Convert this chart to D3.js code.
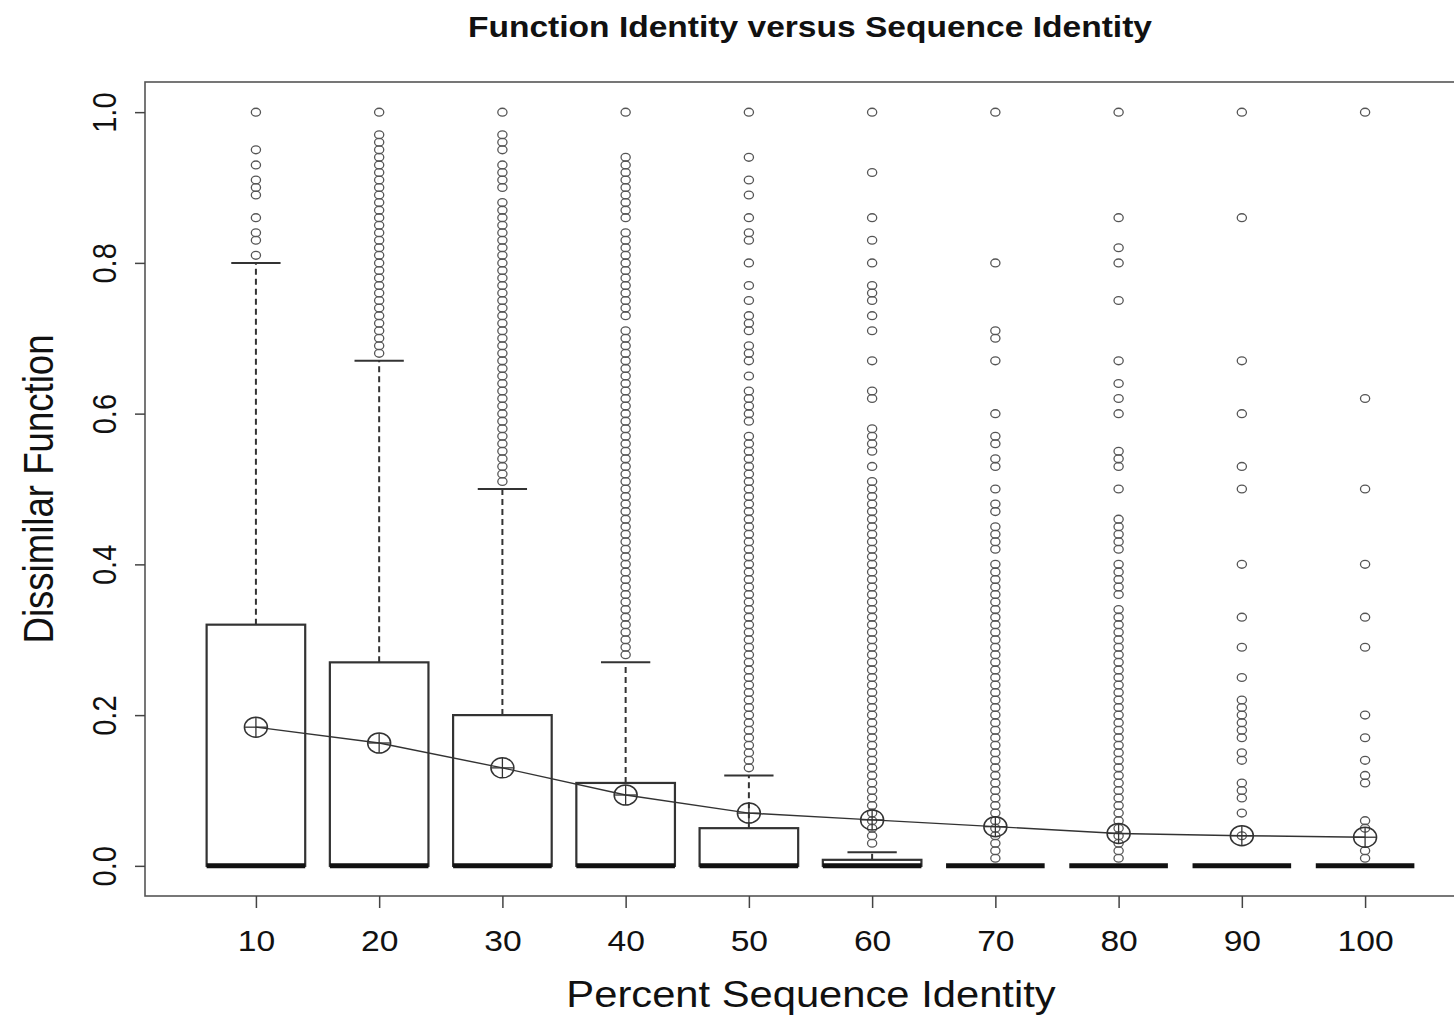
<!DOCTYPE html>
<html>
<head>
<meta charset="utf-8">
<title>Function Identity versus Sequence Identity</title>
<script src="https://cdnjs.cloudflare.com/ajax/libs/d3/7.8.5/d3.min.js"></script>
<style>
  body { margin: 0; background: #fff; }
  #main_chart text { font-family: "Liberation Sans", Arial, sans-serif; fill: #111; }
</style>
</head>
<body>
<div id="main_chart"></div>
<script>
// percent sequence identity bins
var categories = [10, 20, 30, 40, 50, 60, 70, 80, 90, 100];

// box statistics per bin (dissimilar function fraction)
var boxLow = [0, 0, 0, 0, 0, 0, 0, 0, 0, 0];
var boxMedian = [0, 0, 0, 0, 0, 0, 0, 0, 0, 0];
var boxHigh = [0.32, 0.27, 0.20, 0.11, 0.05, 0.008, 0, 0, 0, 0];
var whiskerHigh = [0.80, 0.67, 0.50, 0.27, 0.12, 0.018, 0, 0, 0, 0];
var means = [0.184, 0.163, 0.130, 0.094, 0.070, 0.061, 0.052, 0.043, 0.040, 0.038];

var outliers10 = [1.0, 0.95, 0.93, 0.91, 0.90, 0.89, 0.86, 0.84, 0.83, 0.81];
var outliers20 = [1.0, 0.97, 0.96, 0.95, 0.94, 0.93, 0.92, 0.91, 0.90, 0.89, 0.88, 0.87, 0.86, 0.85, 0.84,
  0.83, 0.82, 0.81, 0.80, 0.79, 0.78, 0.77, 0.76, 0.75, 0.74, 0.73, 0.72, 0.71, 0.70, 0.69, 0.68];
var outliers30 = [1.0, 0.97, 0.96, 0.95, 0.93, 0.92, 0.91, 0.90, 0.88, 0.87, 0.86, 0.85, 0.84, 0.83, 0.82,
  0.81, 0.80, 0.79, 0.78, 0.77, 0.76, 0.75, 0.74, 0.73, 0.72, 0.71, 0.70, 0.69, 0.68, 0.67, 0.66, 0.65,
  0.64, 0.63, 0.62, 0.61, 0.60, 0.59, 0.58, 0.57, 0.56, 0.55, 0.54, 0.53, 0.52, 0.51];
var outliers40 = [1.0, 0.94, 0.93, 0.92, 0.91, 0.90, 0.89, 0.88, 0.87, 0.86, 0.84, 0.83, 0.82, 0.81, 0.80,
  0.79, 0.78, 0.77, 0.76, 0.75, 0.74, 0.73, 0.71, 0.70, 0.69, 0.68, 0.67, 0.66, 0.65, 0.64, 0.63, 0.62,
  0.61, 0.60, 0.59, 0.58, 0.57, 0.56, 0.55, 0.54, 0.53, 0.52, 0.51, 0.50, 0.49, 0.48, 0.47, 0.46, 0.45,
  0.44, 0.43, 0.42, 0.41, 0.40, 0.39, 0.38, 0.37, 0.36, 0.35, 0.34, 0.33, 0.32, 0.31, 0.30, 0.29, 0.28];
var outliers50 = [1.0, 0.94, 0.91, 0.89, 0.86, 0.84, 0.83, 0.80, 0.77, 0.75, 0.73, 0.72, 0.71, 0.69, 0.68,
  0.67, 0.65, 0.63, 0.62, 0.61, 0.60, 0.59, 0.57, 0.56, 0.55, 0.54, 0.53, 0.52, 0.51, 0.50, 0.49, 0.48,
  0.47, 0.46, 0.45, 0.44, 0.43, 0.42, 0.41, 0.40, 0.39, 0.38, 0.37, 0.36, 0.35, 0.34, 0.33, 0.32, 0.31,
  0.30, 0.29, 0.28, 0.27, 0.26, 0.25, 0.24, 0.23, 0.22, 0.21, 0.20, 0.19, 0.18, 0.17, 0.16, 0.15, 0.14, 0.13];
var outliers60 = [1.0, 0.92, 0.86, 0.83, 0.80, 0.77, 0.76, 0.75, 0.73, 0.71, 0.67, 0.63, 0.62, 0.58, 0.57,
  0.56, 0.55, 0.53, 0.51, 0.50, 0.49, 0.48, 0.47, 0.46, 0.45, 0.44, 0.43, 0.42, 0.41, 0.40, 0.39, 0.38,
  0.37, 0.36, 0.35, 0.34, 0.33, 0.32, 0.31, 0.30, 0.29, 0.28, 0.27, 0.26, 0.25, 0.24, 0.23, 0.22, 0.21,
  0.20, 0.19, 0.18, 0.17, 0.16, 0.15, 0.14, 0.13, 0.12, 0.11, 0.10, 0.09, 0.08, 0.07, 0.06, 0.05, 0.04, 0.03];
var outliers70 = [1.0, 0.80, 0.71, 0.70, 0.67, 0.60, 0.57, 0.56, 0.54, 0.53, 0.50, 0.48, 0.47, 0.45, 0.44,
  0.43, 0.42, 0.40, 0.39, 0.38, 0.37, 0.36, 0.35, 0.34, 0.33, 0.32, 0.31, 0.30, 0.29, 0.28, 0.27, 0.26,
  0.25, 0.24, 0.23, 0.22, 0.21, 0.20, 0.19, 0.18, 0.17, 0.16, 0.15, 0.14, 0.13, 0.12, 0.11, 0.10, 0.09,
  0.08, 0.07, 0.06, 0.05, 0.04, 0.03, 0.02, 0.01];
var outliers80 = [1.0, 0.86, 0.82, 0.80, 0.75, 0.67, 0.64, 0.62, 0.60, 0.55, 0.54, 0.53, 0.50, 0.46, 0.45,
  0.44, 0.43, 0.42, 0.40, 0.39, 0.38, 0.37, 0.36, 0.34, 0.33, 0.32, 0.31, 0.30, 0.29, 0.28, 0.27, 0.26,
  0.25, 0.24, 0.23, 0.22, 0.21, 0.20, 0.19, 0.18, 0.17, 0.16, 0.15, 0.14, 0.13, 0.12, 0.11, 0.10, 0.09,
  0.08, 0.07, 0.06, 0.05, 0.04, 0.03, 0.02, 0.01];
var outliers90 = [1.0, 0.86, 0.67, 0.60, 0.53, 0.50, 0.40, 0.33, 0.29, 0.25, 0.22, 0.21, 0.20, 0.19, 0.18,
  0.17, 0.15, 0.14, 0.11, 0.10, 0.09, 0.07, 0.04];
var outliers100 = [1.0, 0.62, 0.50, 0.40, 0.33, 0.29, 0.20, 0.17, 0.14, 0.12, 0.11, 0.06, 0.05, 0.02, 0.01];

var outliers = [outliers10, outliers20, outliers30, outliers40, outliers50,
  outliers60, outliers70, outliers80, outliers90, outliers100];

var yTicks = [0, 0.2, 0.4, 0.6, 0.8, 1.0];

// the source picture is stretched sideways, so text gets the same squash
var stretch = 1.14;

function initChart() {
  var width = 1454, height = 1015;
  var plot = {left: 145, top: 82, right: 1476, bottom: 896};

  var svg = d3.select('#main_chart').append('svg')
    .attr('width', width)
    .attr('height', height);

  // R style: boxes sit at 1..n, xlim 0.5..n+0.5 padded by 4%
  var xScale = d3.scaleLinear()
    .domain([0.1, 10.9])
    .range([plot.left, plot.right]);

  var yScale = d3.scaleLinear()
    .domain([-0.04, 1.04])
    .range([plot.bottom, plot.top]);

  var halfBox = xScale(1.4) - xScale(1);
  var halfCap = xScale(1.2) - xScale(1);

  // frame
  svg.append('rect')
    .attr('x', plot.left)
    .attr('y', plot.top)
    .attr('width', plot.right - plot.left)
    .attr('height', plot.bottom - plot.top)
    .attr('fill', 'none')
    .attr('stroke', '#555')
    .attr('stroke-width', 1.6);

  var boxes = svg.append('g').selectAll('g')
    .data(categories)
    .enter().append('g');

  // upper whiskers
  boxes.filter(function (d, i) { return whiskerHigh[i] > boxHigh[i]; })
    .each(function (d) {
      var i = categories.indexOf(d), g = d3.select(this), cx = xScale(i + 1);
      g.append('line')
        .attr('x1', cx).attr('x2', cx)
        .attr('y1', yScale(boxHigh[i])).attr('y2', yScale(whiskerHigh[i]))
        .attr('stroke', '#333')
        .attr('stroke-width', 2)
        .attr('stroke-dasharray', '6,4');
      g.append('line')
        .attr('x1', cx - halfCap).attr('x2', cx + halfCap)
        .attr('y1', yScale(whiskerHigh[i])).attr('y2', yScale(whiskerHigh[i]))
        .attr('stroke', '#333')
        .attr('stroke-width', 2);
    });

  // boxes
  boxes.filter(function (d, i) { return boxHigh[i] > boxLow[i]; })
    .append('rect')
    .attr('x', function (d) { return xScale(categories.indexOf(d) + 1) - halfBox; })
    .attr('y', function (d) { return yScale(boxHigh[categories.indexOf(d)]); })
    .attr('width', halfBox * 2)
    .attr('height', function (d) {
      var i = categories.indexOf(d);
      return yScale(boxLow[i]) - yScale(boxHigh[i]);
    })
    .attr('fill', '#fff')
    .attr('stroke', '#333')
    .attr('stroke-width', 2.2);

  // medians
  boxes.append('line')
    .attr('x1', function (d, i) { return xScale(i + 1) - halfBox; })
    .attr('x2', function (d, i) { return xScale(i + 1) + halfBox; })
    .attr('y1', function (d, i) { return yScale(boxMedian[i]); })
    .attr('y2', function (d, i) { return yScale(boxMedian[i]); })
    .attr('stroke', '#111')
    .attr('stroke-width', 5);

  // outlying points
  boxes.each(function (d, i) {
    d3.select(this).selectAll('ellipse')
      .data(outliers[i])
      .enter().append('ellipse')
      .attr('cx', xScale(i + 1))
      .attr('cy', function (v) { return yScale(v); })
      .attr('rx', 4.6)
      .attr('ry', 3.9)
      .attr('fill', 'none')
      .attr('stroke', '#555')
      .attr('stroke-width', 1.3);
  });

  // means joined by a line
  var line = d3.line()
    .x(function (d, i) { return xScale(i + 1); })
    .y(function (d) { return yScale(d); });

  svg.append('path')
    .datum(means)
    .attr('d', line)
    .attr('fill', 'none')
    .attr('stroke', '#333')
    .attr('stroke-width', 1.4);

  var marks = svg.append('g').selectAll('g')
    .data(means)
    .enter().append('g')
    .attr('transform', function (d, i) {
      return 'translate(' + xScale(i + 1) + ',' + yScale(d) + ')';
    });

  marks.append('ellipse')
    .attr('rx', 11.5)
    .attr('ry', 10)
    .attr('fill', 'none')
    .attr('stroke', '#333')
    .attr('stroke-width', 1.5);
  marks.append('line')
    .attr('x1', -11.5).attr('x2', 11.5)
    .attr('stroke', '#333').attr('stroke-width', 1.3);
  marks.append('line')
    .attr('y1', -10).attr('y2', 10)
    .attr('stroke', '#333').attr('stroke-width', 1.3);

  // y axis
  var yAxis = svg.append('g')
    .attr('transform', 'translate(' + plot.left + ',0)')
    .call(d3.axisLeft(yScale)
      .tickValues(yTicks)
      .tickSize(10)
      .tickFormat(d3.format('.1f')));

  yAxis.select('.domain').remove();
  yAxis.selectAll('.tick line').attr('stroke', '#444').attr('stroke-width', 1.5);
  yAxis.selectAll('.tick text')
    .attr('x', null)
    .attr('dy', null)
    .attr('text-anchor', 'middle')
    .attr('font-size', 29)
    .attr('transform', 'translate(-29,0) scale(' + stretch + ',1) rotate(-90)');

  // x axis
  var xAxis = svg.append('g')
    .attr('transform', 'translate(0,' + plot.bottom + ')')
    .call(d3.axisBottom(xScale)
      .tickValues(d3.range(1, categories.length + 1))
      .tickSize(12)
      .tickFormat(function (d) { return categories[d - 1]; }));

  xAxis.select('.domain').remove();
  xAxis.selectAll('.tick line').attr('stroke', '#444').attr('stroke-width', 1.5);
  xAxis.selectAll('.tick text')
    .attr('y', null)
    .attr('dy', null)
    .attr('font-size', 29.5)
    .attr('transform', 'translate(0,55) scale(' + stretch + ',1)');

  // titles
  svg.append('text')
    .attr('x', 810)
    .attr('y', 37)
    .attr('text-anchor', 'middle')
    .attr('font-size', 30)
    .attr('font-weight', 'bold')
    .attr('textLength', 684)
    .attr('lengthAdjust', 'spacingAndGlyphs')
    .text('Function Identity versus Sequence Identity');

  svg.append('text')
    .attr('transform', 'translate(811,1007) scale(' + stretch + ',1)')
    .attr('text-anchor', 'middle')
    .attr('font-size', 36.6)
    .text('Percent Sequence Identity');

  svg.append('text')
    .attr('transform', 'translate(53,489) scale(' + stretch + ',1) rotate(-90)')
    .attr('text-anchor', 'middle')
    .attr('font-size', 36.6)
    .text('Dissimilar Function');
}

initChart();
</script>
</body>
</html>
